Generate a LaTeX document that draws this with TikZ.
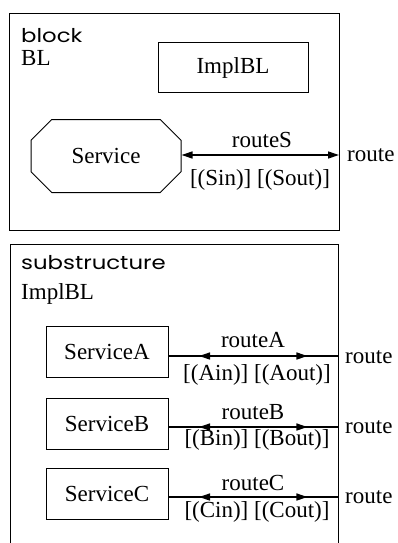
\documentclass[tikz,border=0pt]{standalone}
\usepackage{fontspec}
\setmainfont{Liberation Serif}
\newfontfamily\kwfont[FakeStretch=1.2]{Poppins}
\usetikzlibrary{arrows.meta,shapes.misc,decorations.markings}

\tikzset{
  frame/.style={line width=1pt},
  txt/.style={font=\fontsize{23}{26}\selectfont},
  svcbox/.style={draw, line width=1pt, rectangle, minimum width=122pt, minimum height=51pt,
                 inner sep=0pt, txt},
  kw/.style={anchor=base west, inner sep=0pt, font=\kwfont\fontsize{19}{22}\selectfont},
  lbl/.style={inner sep=0pt, txt},
  tip/.tip={Triangle[length=11pt,width=7pt]},
  chan/.style={line width=1.3pt},
  midarrows/.style={postaction={decorate}, decoration={markings,
      mark=at position #1 with {\arrowreversed{tip}},
      mark=at position 0.82 with {\arrow{tip}}}}
}

\begin{document}
\begin{tikzpicture}[x=1pt,y=-1pt]
\useasboundingbox (0,0) rectangle (398,543);

% ---- block BL ----
\draw[frame] (9,14) rectangle (339,230);
\node[kw] (kwblock) at (21,42) {block};
\node[lbl, anchor=base west] (nameBL) at (21,66) {BL};
\node[draw, line width=1pt, minimum width=150pt, minimum height=49pt, inner sep=0pt, txt]
  (impl) at (233,67.5) {ImplBL};
\node[draw, line width=1pt, chamfered rectangle, chamfered rectangle xsep=12pt,
      chamfered rectangle ysep=13pt, minimum width=150pt, minimum height=73pt, inner sep=0pt,
      txt] (service) at (106,156) {Service};
\coordinate (edgeS) at (339,155);
\draw[chan, {tip}-{tip}] (service.east |- edgeS) -- (edgeS);
\node[lbl] (routeS) at (262,140) {routeS};
\node[lbl] (sigS) at (260,180) {[(Sin)] [(Sout)]};
\node[lbl, anchor=west] (extS) at (347,155) {route};

% ---- substructure ImplBL ----
\draw[frame] (10,545) -- (10,244) -- (338,244) -- (338,545);
\node[kw] (kwsub) at (21,269) {substructure};
\node[lbl, anchor=base west] (nameImpl) at (21,299) {ImplBL};

\node[svcbox] (sa) at (107,351.5) {ServiceA};
\node[svcbox] (sb) at (107,423.5) {ServiceB};
\node[svcbox] (sc) at (107,493.5) {ServiceC};

\coordinate (edgeA) at (338,356);
\coordinate (edgeB) at (338,427);
\coordinate (edgeC) at (338,497);

\draw[chan, midarrows=0.18] (sa.east |- edgeA) -- (edgeA);
\draw[chan, midarrows=0.18] (sb.east |- edgeB) -- (edgeB);
\draw[chan, midarrows=0.18] (sc.east |- edgeC) -- (edgeC);

\node[lbl] (routeA) at (253,340) {routeA};
\node[lbl] (sigA) at (257,375) {[(Ain)]\ [(Aout)]};
\node[lbl, anchor=west] (extA) at (345,357) {route};

\node[lbl] (routeB) at (253,412) {routeB};
\node[lbl] (sigB) at (257,440) {[(Bin)]\ [(Bout)]};
\node[lbl, anchor=west] (extB) at (345,427) {route};

\node[lbl] (routeC) at (253,483) {routeC};
\node[lbl] (sigC) at (257,512) {[(Cin)]\ [(Cout)]};
\node[lbl, anchor=west] (extC) at (345,497) {route};
\end{tikzpicture}
\end{document}
